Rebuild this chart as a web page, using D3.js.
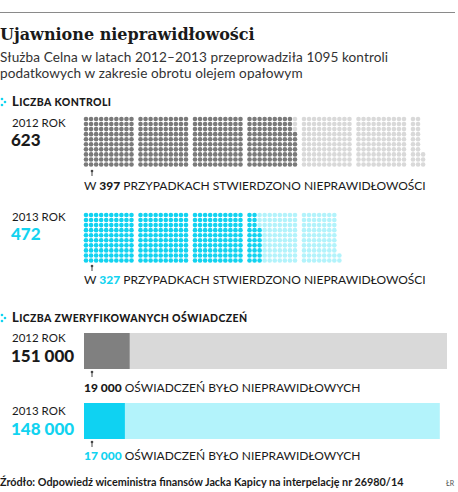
<!DOCTYPE html>
<html>
<head>
<meta charset="utf-8">
<script src="https://cdn.jsdelivr.net/npm/d3@7"></script>
<style>
  body { margin: 0; background: #fff; }
  text { font-family: Lato, "Open Sans", sans-serif; fill: #1a1a1a; }
</style>
</head>
<body>
<div id="chart"></div>
<script>
// values
var years = ["2012 ROK", "2013 ROK"];
var controls = [623, 472];              // liczba kontroli
var controlsIrregular = [397, 327];     // przypadki z nieprawidłowościami
var declarations = [151000, 148000];    // zweryfikowane oświadczenia
var declarationsIrregular = [19000, 17000];

var darkColor = ["#7a7a7a", "#12d3f0"];
var lightColor = ["#d9d9d9", "#b3f3fb"];
var barDark = ["#808080", "#0fd2f2"];
var numColor = ["#1a1a1a", "#12d3f0"];

var w = 458, h = 492;

var pl = d3.formatLocale({decimal: ",", thousands: "\u00a0", grouping: [3], currency: ["", ""]});
var fmt = pl.format(",d");

var svg = d3.select("#chart").append("svg")
    .attr("width", w)
    .attr("height", h);

// top rule
svg.append("line")
    .attr("x1", 0).attr("x2", 455)
    .attr("y1", 12.5).attr("y2", 12.5)
    .attr("stroke", "#8a8a8a")
    .attr("stroke-width", 1);

svg.append("text")
    .attr("x", 0).attr("y", 40)
    .style("font-family", "'DejaVu Serif', serif")
    .style("font-weight", "bold")
    .style("font-size", "16px")
    .text("Ujawnione nieprawidłowości");

svg.append("text")
    .attr("x", 0).attr("y", 62)
    .style("font-size", "13.6px")
    .style("letter-spacing", "0.1px")
    .style("fill", "#333")
    .text("Służba Celna w latach 2012–2013 przeprowadziła 1095 kontroli");
svg.append("text")
    .attr("x", 0).attr("y", 78)
    .style("font-size", "13.6px")
    .style("letter-spacing", "0.1px")
    .style("fill", "#333")
    .text("podatkowych w zakresie obrotu olejem opałowym");

function sectionHeader(y, label) {
    var g = svg.append("g");
    [[2, -7], [5, -4], [2, -1]].forEach(function(p) {
        g.append("circle")
            .attr("cx", p[0]).attr("cy", y + p[1])
            .attr("r", 1.3)
            .attr("fill", "#12d3f0");
    });
    var t = g.append("text")
        .attr("x", 12).attr("y", y)
        .style("font-weight", 900)
        .style("letter-spacing", "0.4px");
    t.append("tspan").style("font-size", "13px").text(label[0].toUpperCase());
    t.append("tspan").style("font-size", "10.5px").text(label.slice(1).toUpperCase());
}

function pin(x, y) {
    svg.append("line")
        .attr("x1", x).attr("x2", x)
        .attr("y1", y).attr("y2", y + 5)
        .attr("stroke", "#444").attr("stroke-width", 1);
    svg.append("circle")
        .attr("cx", x).attr("cy", y)
        .attr("r", 1.3)
        .attr("fill", "#444");
}

function yearLabel(y1, y2, i, value) {
    svg.append("text")
        .attr("x", 12).attr("y", y1)
        .style("font-size", "11.5px")
        .text(years[i]);
    svg.append("text")
        .attr("x", 11).attr("y", y2)
        .style("font-size", "17px")
        .style("font-weight", 900)
        .style("fill", numColor[i])
        .text(fmt(value));
}

function note(y, i, value, label, prefix) {
    var t = svg.append("text")
        .attr("x", 84).attr("y", y)
        .style("font-size", "12px");
    if (prefix) t.append("tspan").text(prefix);
    t.append("tspan")
        .style("font-weight", 900)
        .style("fill", numColor[i])
        .text(fmt(value));
    t.append("tspan").text(" " + label);
}

// ---------- Liczba kontroli ----------
sectionHeader(106, "Liczba kontroli");

var blockX = d3.scaleLinear().domain([0, 6]).range([86, 86 + 6 * 54.5]);
var colX = d3.scaleLinear().domain([0, 9]).range([0, 45.5]);
var rowY = d3.scaleLinear().domain([0, 9]).range([0, 45.5]);

var gridTop = [119, 215];
var yearY = [[127, 146], [221, 240]];
var noteY = [190, 284];
var pinY = [171, 266];

controls.forEach(function(total, k) {
    var dots = d3.range(total);
    svg.append("g").selectAll("circle")
        .data(dots)
        .enter()
        .append("circle")
        .attr("cx", function(i) {
            var b = Math.floor(i / 100);
            var c = Math.floor((i % 100) / 10);
            return blockX(b) + colX(c);
        })
        .attr("cy", function(i) {
            var r = 9 - (i % 10); // filled from the bottom
            return gridTop[k] + rowY(r);
        })
        .attr("r", 2.3)
        .attr("fill", function(i) { return i < controlsIrregular[k] ? darkColor[k] : lightColor[k]; });

    yearLabel(yearY[k][0], yearY[k][1], k, total);
    pin(92, pinY[k]);
    note(noteY[k], k, controlsIrregular[k], "PRZYPADKACH STWIERDZONO NIEPRAWIDŁOWOŚCI", "W ");
});

// ---------- Liczba zweryfikowanych oświadczeń ----------
sectionHeader(322, "Liczba zweryfikowanych oświadczeń");

var xBar = d3.scaleLinear().domain([0, d3.max(declarations)]).range([84, 447]);
var barTop = [333, 403];
var barH = 36;
var barYear = [[342, 362], [415, 435]];
var barPin = [372, 442];
var barNote = [392, 460];

declarations.forEach(function(total, k) {
    svg.append("rect")
        .attr("x", xBar(0)).attr("y", barTop[k])
        .attr("width", xBar(total) - xBar(0))
        .attr("height", barH)
        .attr("fill", lightColor[k]);
    svg.append("rect")
        .attr("x", xBar(0)).attr("y", barTop[k])
        .attr("width", xBar(declarationsIrregular[k]) - xBar(0))
        .attr("height", barH)
        .attr("fill", barDark[k]);

    yearLabel(barYear[k][0], barYear[k][1], k, total);
    pin(92, barPin[k]);
    note(barNote[k], k, declarationsIrregular[k], "OŚWIADCZEŃ BYŁO NIEPRAWIDŁOWYCH", "");
});

// source
svg.append("text")
    .attr("x", 0).attr("y", 486)
    .style("font-size", "10.8px")
    .style("font-weight", "bold")
    .text("Źródło: Odpowiedź wiceministra finansów Jacka Kapicy na interpelację nr 26980/14");
svg.append("text")
    .attr("x", 446).attr("y", 486)
    .style("font-size", "7px")
    .style("fill", "#555")
    .text("ŁR");
</script>
</body>
</html>
